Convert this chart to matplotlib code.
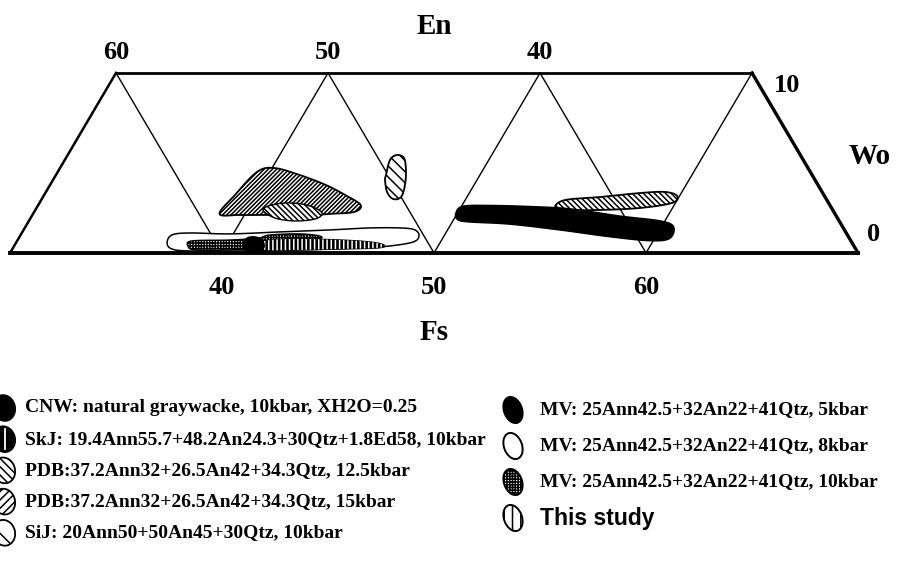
import matplotlib
matplotlib.use("Agg")
import matplotlib.pyplot as plt
from matplotlib.patches import Polygon, Ellipse
import numpy as np

# ---- data: compositions (Fs, Wo) in mol%, outlines ----
FS_GRID = [30, 40, 50, 60, 70]
WO_TOP = 10
EN_TICKS = [60, 50, 40]
FS_TICKS = [40, 50, 60]
WO_TICKS = [10, 0]

pdb15_fs = [38.8, 39.0, 39.4, 40.1, 41.5, 43.0, 44.2, 45.2, 45.1, 44.0, 42.7, 41.2, 39.8]
pdb15_wo = [2.17, 3.22, 4.5, 4.72, 4.33, 3.78, 3.22, 2.67, 2.28, 2.17, 2.06, 2.11, 2.11]

pdb125_fs = [40.74, 41.03, 41.82, 42.85, 43.61, 43.45, 42.55, 41.53]
pdb125_wo = [2.39, 2.67, 2.78, 2.61, 2.22, 1.89, 1.78, 1.94]

sij_fs = [45.57, 45.34, 45.53, 45.94, 46.37, 46.74, 46.89, 46.57, 46.09, 45.66]
sij_wo = [4.33, 5.17, 5.44, 5.28, 4.61, 3.78, 3.11, 3.0, 3.39, 4.06]

mv8_fs = [37.13, 37.14, 37.93, 39.85, 42.16, 44.45, 46.29, 47.71, 48.46, 48.82,
          48.71, 47.73, 46.37, 43.6, 40.8, 38.44, 37.53]
mv8_wo = [0.56, 1.0, 1.11, 1.06, 1.17, 1.28, 1.39, 1.39, 1.28, 0.94,
          0.61, 0.39, 0.28, 0.17, 0.11, 0.11, 0.22]

mv10_fs = [38.2, 38.25, 40.02, 41.29, 41.76, 43.15, 44.15, 44.14, 42.87, 42.22, 41.56, 40.3, 38.65]
mv10_wo = [0.39, 0.67, 0.72, 0.83, 1.0, 1.06, 0.94, 0.78, 0.67, 0.56, 0.28, 0.17, 0.17]

cnw_fs = [40.77, 40.77, 41.12, 41.53, 41.82, 41.7, 41.2]
cnw_wo = [0.44, 0.83, 0.89, 0.72, 0.33, 0.02, 0.06]

skj_fs = [41.54, 41.9, 43.29, 45.21, 46.68, 47.42, 47.22, 45.46, 43.6, 41.95]
skj_wo = [0.5, 0.72, 0.78, 0.72, 0.61, 0.44, 0.28, 0.22, 0.17, 0.17]

mv5_fs = [49.92, 50.07, 51.36, 53.28, 55.22, 57.77, 59.8, 60.58, 60.71, 59.83,
          57.83, 55.27, 52.75, 50.81, 50.19]
mv5_wo = [2.22, 2.6, 2.64, 2.58, 2.45, 2.05, 1.78, 1.45, 0.8, 0.68,
          0.9, 1.28, 1.6, 1.72, 1.85]

hatch_r_fs = [54.43, 54.71, 56.28, 58.06, 59.2, 59.88, 59.84, 58.47, 56.64, 54.99]
hatch_r_wo = [2.56, 2.94, 3.11, 3.33, 3.39, 3.17, 2.78, 2.5, 2.39, 2.39]

legend_left = [
    "CNW: natural graywacke, 10kbar, XH2O=0.25",
    "SkJ: 19.4Ann55.7+48.2An24.3+30Qtz+1.8Ed58, 10kbar",
    "PDB:37.2Ann32+26.5An42+34.3Qtz, 12.5kbar",
    "PDB:37.2Ann32+26.5An42+34.3Qtz, 15kbar",
    "SiJ: 20Ann50+50An45+30Qtz, 10kbar",
]
legend_right = [
    "MV: 25Ann42.5+32An22+41Qtz, 5kbar",
    "MV: 25Ann42.5+32An22+41Qtz, 8kbar",
    "MV: 25Ann42.5+32An22+41Qtz, 10kbar",
    "This study",
]

SERIF = ["Liberation Serif", "DejaVu Serif"]
SANS = ["Liberation Sans", "DejaVu Sans"]


def to_x(fs, wo):
    return np.asarray(fs, float) + np.asarray(wo, float) / 2.0


def to_y(wo):
    return np.asarray(wo, float) * np.sqrt(3) / 2.0


def smooth(fs, wo, n=14):
    p = np.column_stack([to_x(fs, wo), to_y(wo)])
    P = np.vstack([p[-1], p, p[0], p[1]])
    t = np.linspace(0, 1, n, endpoint=False)[:, None]
    out = []
    for i in range(1, len(p) + 1):
        p0, p1, p2, p3 = P[i - 1], P[i], P[i + 1], P[i + 2]
        seg = 0.5 * (2 * p1 + (-p0 + p2) * t
                     + (2 * p0 - 5 * p1 + 4 * p2 - p3) * t ** 2
                     + (-p0 + 3 * p1 - 3 * p2 + p3) * t ** 3)
        out.append(seg)
    return np.vstack(out)


def blob(ax, fs, wo, z, **kw):
    ax.add_patch(Polygon(smooth(fs, wo), closed=True, zorder=z, **kw))


plt.rcParams["hatch.linewidth"] = 1.1
fig = plt.figure(figsize=(9, 5.66), dpi=100)
ax = fig.add_axes([0, 0, 1, 1])
ax.set_xlim(29.528, 71.98)
ax.set_ylim(-15.06, 12.17)
ax.axis("off")

# frame of the quadrilateral
ytop = to_y(WO_TOP)
ax.plot([to_x(FS_GRID[0], 0), to_x(FS_GRID[-1], 0)], [0, 0], color="black", lw=2.8, zorder=3)
ax.plot([to_x(FS_GRID[0], WO_TOP), to_x(FS_GRID[-2], WO_TOP)], [ytop, ytop], color="black", lw=2.0, zorder=3)
ax.plot([to_x(FS_GRID[0], 0), to_x(FS_GRID[0], WO_TOP)], [0, ytop], color="black", lw=1.8, zorder=3)
ax.plot([to_x(FS_GRID[-1], 0), to_x(FS_GRID[-2], WO_TOP)], [0, ytop], color="black", lw=2.4, zorder=3)
for k0, k1 in zip(FS_GRID[:-1], FS_GRID[1:]):
    if k0 != FS_GRID[0]:
        ax.plot([to_x(k0, 0), to_x(k0, WO_TOP)], [0, ytop], color="black", lw=1.0, zorder=1)
    if k1 != FS_GRID[-1]:
        ax.plot([to_x(k0, WO_TOP), to_x(k1, 0)], [ytop, 0], color="black", lw=1.0, zorder=1)

# fields
blob(ax, pdb15_fs, pdb15_wo, 4, facecolor="white", edgecolor="black", lw=1.3, hatch="////////")
blob(ax, pdb125_fs, pdb125_wo, 5, facecolor="white", edgecolor="black", lw=1.0, hatch="\\\\\\\\\\\\")
blob(ax, sij_fs, sij_wo, 4, facecolor="white", edgecolor="black", lw=1.3, hatch="\\\\\\")
blob(ax, mv8_fs, mv8_wo, 4, facecolor="white", edgecolor="black", lw=1.1)
blob(ax, mv10_fs, mv10_wo, 5, facecolor="white", edgecolor="black", lw=1.0, hatch="++++++")
blob(ax, skj_fs, skj_wo, 6, facecolor="black", edgecolor="black", lw=1.0)
blob(ax, skj_fs, skj_wo, 6.5, facecolor="none", edgecolor="white", lw=0, hatch="||||")
blob(ax, cnw_fs, cnw_wo, 7, facecolor="black", edgecolor="black", lw=1.0)
blob(ax, hatch_r_fs, hatch_r_wo, 4, facecolor="white", edgecolor="black", lw=1.3, hatch="\\\\\\\\\\\\")
blob(ax, mv5_fs, mv5_wo, 6, facecolor="black", edgecolor="black", lw=1.0)

# axis labels
for en in EN_TICKS:
    fs = 100 - en - WO_TOP
    ax.text(to_x(fs, WO_TOP), ytop + 0.96, str(en), ha="center", va="center",
            fontsize=19, fontweight="bold", family=SERIF)
for fs in FS_TICKS:
    ax.text(to_x(fs, 0), -1.64, str(fs), ha="center", va="center",
            fontsize=19, fontweight="bold", family=SERIF)
ax.text(66.65, 8.04, str(WO_TICKS[0]), ha="center", va="center", fontsize=19, fontweight="bold", family=SERIF)
ax.text(70.71, 0.87, str(WO_TICKS[1]), ha="center", va="center", fontsize=19, fontweight="bold", family=SERIF)
ax.text(50, 10.88, "En", ha="center", va="center", fontsize=21, fontweight="bold", family=SERIF)
ax.text(50, -3.85, "Fs", ha="center", va="center", fontsize=21, fontweight="bold", family=SERIF)
ax.text(70.57, 4.62, "Wo", ha="center", va="center", fontsize=21, fontweight="bold", family=SERIF)

# legend, drawn in pixel units
lg = fig.add_axes([0, 0, 1, 1])
lg.set_xlim(0, 900)
lg.set_ylim(566, 0)
lg.axis("off")

left_styles = [
    dict(facecolor="black", edgecolor="black"),
    dict(facecolor="black", edgecolor="black"),
    dict(facecolor="white", edgecolor="black", hatch="\\\\\\\\"),
    dict(facecolor="white", edgecolor="black", hatch="////"),
    dict(facecolor="white", edgecolor="black", hatch="\\"),
]
for i, (label, st) in enumerate(zip(legend_left, left_styles)):
    y = 408 + i * 31.2
    lg.add_patch(Ellipse((4, y), 22, 26, angle=-15, lw=1.3, **st))
    if i == 1:
        lg.plot([5, 5], [y - 10, y + 10], color="white", lw=1.3)
    lg.text(25, y, label, ha="left", va="center", fontsize=14, fontweight="bold", family=SERIF)

right_styles = [
    dict(facecolor="black", edgecolor="black"),
    dict(facecolor="white", edgecolor="black"),
    dict(facecolor="white", edgecolor="black", hatch="++++++"),
    dict(facecolor="white", edgecolor="black", hatch="||"),
]
for i, (label, st) in enumerate(zip(legend_right, right_styles)):
    y = 410 + i * 36
    lg.add_patch(Ellipse((513, y), 18, 27, angle=-20, lw=1.4, **st))
    if i < 3:
        lg.text(540, y, label, ha="left", va="center", fontsize=14, fontweight="bold", family=SERIF)
    else:
        lg.text(540, y, label, ha="left", va="center", fontsize=16.5, fontweight="bold", family=SANS)

fig.savefig("out.png", dpi=100)
